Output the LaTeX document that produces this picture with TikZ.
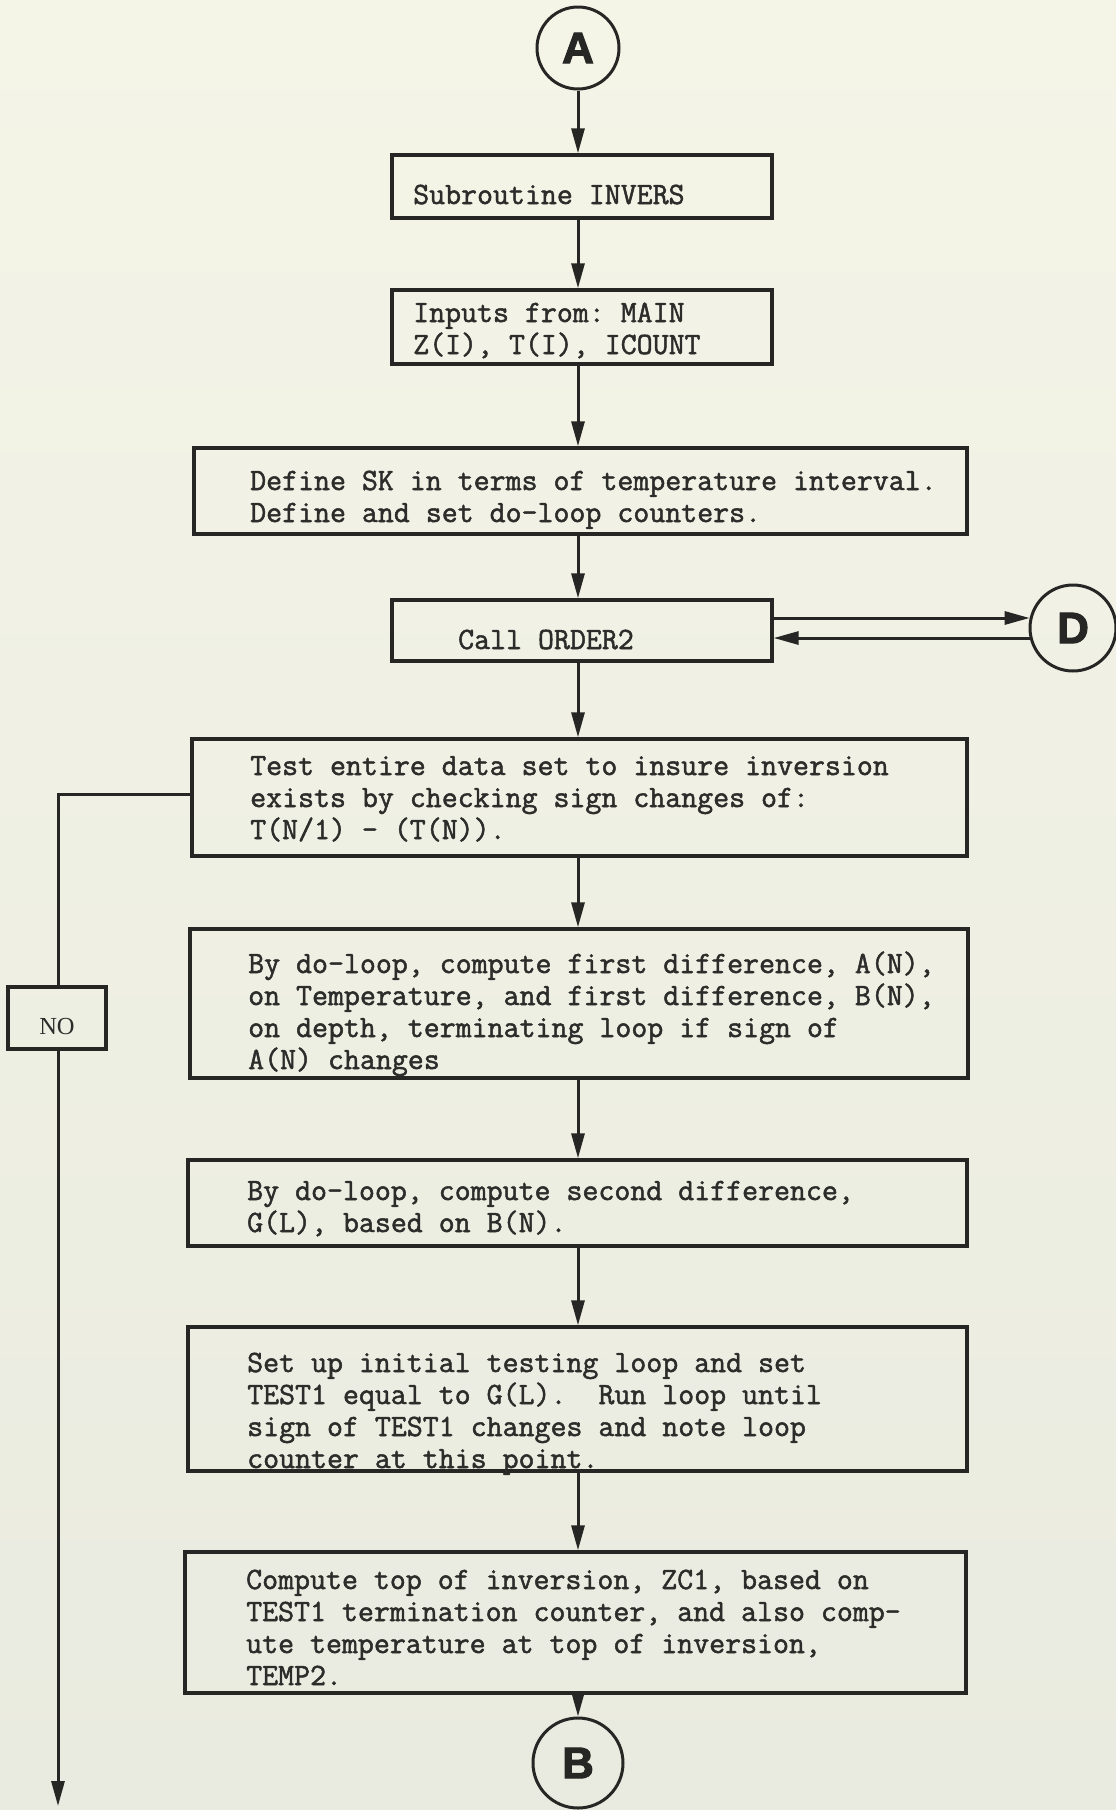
\documentclass[tikz,border=0pt]{standalone}
\usepackage{fontspec}
\usetikzlibrary{arrows.meta,calc}
\newfontfamily\heavyfont{Liberation Sans}[FakeBold=2.5]
\newfontfamily\noboxfont{Liberation Serif}
\newfontfamily\typefont{Latin Modern Mono}[FakeBold=1.6]
\definecolor{inkc}{RGB}{38,38,36}
\definecolor{textc}{RGB}{44,44,42}
\definecolor{papertop}{RGB}{244,244,231}
\definecolor{paperbot}{RGB}{234,235,224}
\begin{document}
\begin{tikzpicture}[x=1pt,y=-1pt,
  box/.style={draw=inkc, line width=3.4pt, rectangle, inner sep=0pt},
  conn/.style={draw=inkc, line width=3pt, circle, inner sep=0pt, text=inkc,
    font=\heavyfont\bfseries\fontsize{44}{44}\selectfont},
  % anchored at the baseline of the last line of each text block
  txt/.style={anchor=base west, align=left, inner sep=0pt, text=textc,
    font=\typefont\fontsize{31}{32}\selectfont\frenchspacing},
  arr/.style={draw=inkc, line width=3pt, -{Triangle[length=25pt,width=13pt]}},
  wire/.style={draw=inkc, line width=3pt}]
\useasboundingbox (0,0) rectangle (1116,1810);
\shade[top color=papertop, bottom color=paperbot] (0,0) rectangle (1116,1810);

% connectors (off-page marks)
\node[conn, minimum size=82] (A) at (578,48) {A};
\node[conn, minimum size=86] (D) at (1073,628) {D};
\node[conn, minimum size=90] (B) at (578,1763) {B};

% process boxes
\node[box, minimum width=380, minimum height=63]  (b1) at (582,186.5) {};
\node[box, minimum width=380, minimum height=74]  (b2) at (582,327) {};
\node[box, minimum width=773, minimum height=86]  (b3) at (580.5,491) {};
\node[box, minimum width=380, minimum height=61]  (b4) at (582,630.5) {};
\node[box, minimum width=775, minimum height=117] (b5) at (579.5,797.5) {};
\node[box, minimum width=778, minimum height=149] (b6) at (579,1003.5) {};
\node[box, minimum width=779, minimum height=86]  (b7) at (577.5,1203) {};
\node[box, minimum width=779, minimum height=144] (b8) at (577.5,1399) {};
\node[box, minimum width=781, minimum height=141] (b9) at (575.5,1622.5) {};
\node[box, minimum width=98, minimum height=62, text height=32pt, text depth=0pt,
  font=\noboxfont\fontsize{24.5}{25}\selectfont, text=textc]
  (no) at (57,1018) {NO};

% box texts
\node[txt] (t1) at (413,204) {Subroutine INVERS};
\node[txt] (t2) at (413,354) {Inputs from: MAIN\\Z(I), T(I), ICOUNT};
\node[txt] (t3) at (250,522) {Define SK in terms of temperature interval.\\Define and set do-loop counters.};
\node[txt] (t4) at (458,649) {Call ORDER2};
\node[txt] (t5) at (250,839) {Test entire data set to insure inversion\\exists by checking sign changes of:\\T(N/1) - (T(N)).};
\node[txt] (t6) at (248,1069) {By do-loop, compute first difference, A(N),\\on Temperature, and first difference, B(N),\\on depth, terminating loop if sign of\\A(N) changes};
\node[txt] (t7) at (247,1232) {By do-loop, compute second difference,\\G(L), based on B(N).};
\node[txt] (t8) at (247,1468) {Set up initial testing loop and set\\TEST1 equal to G(L).\ \ Run loop until\\sign of TEST1 changes and note loop\\counter at this point.};
\node[txt] (t9) at (246,1685) {Compute top of inversion, ZC1, based on\\TEST1 termination counter, and also comp-\\ute temperature at top of inversion,\\TEMP2.};

% main flow
\draw[arr] (A) -- (b1.north -| A);
\draw[arr] (b1.south -| A) -- (b2.north -| A);
\draw[arr] (b2.south -| A) -- (b3.north -| A);
\draw[arr] (b3.south -| A) -- (b4.north -| A);
\draw[arr] (b4.south -| A) -- (b5.north -| A);
\draw[arr] (b5.south -| A) -- (b6.north -| A);
\draw[arr] (b6.south -| A) -- (b7.north -| A);
\draw[arr] (b7.south -| A) -- (b8.north -| A);
\draw[arr] (b8.south -| A) -- (b9.north -| A);
\draw[arr] (b9.south -| A) -- (B);

% call to ORDER2 and return
\draw[arr] (b4.east |- D.167) -- (D.167);
\draw[arr] (D.193) -- (b4.east |- D.193);

% no-inversion branch
\coordinate (noturn) at (58,794);
\coordinate (noend) at (58,1806);
\draw[wire] (b5.west |- noturn) -- (noturn) -- (noturn |- no.north);
\draw[arr] (noturn |- no.south) -- (noend);
\end{tikzpicture}
\end{document}
